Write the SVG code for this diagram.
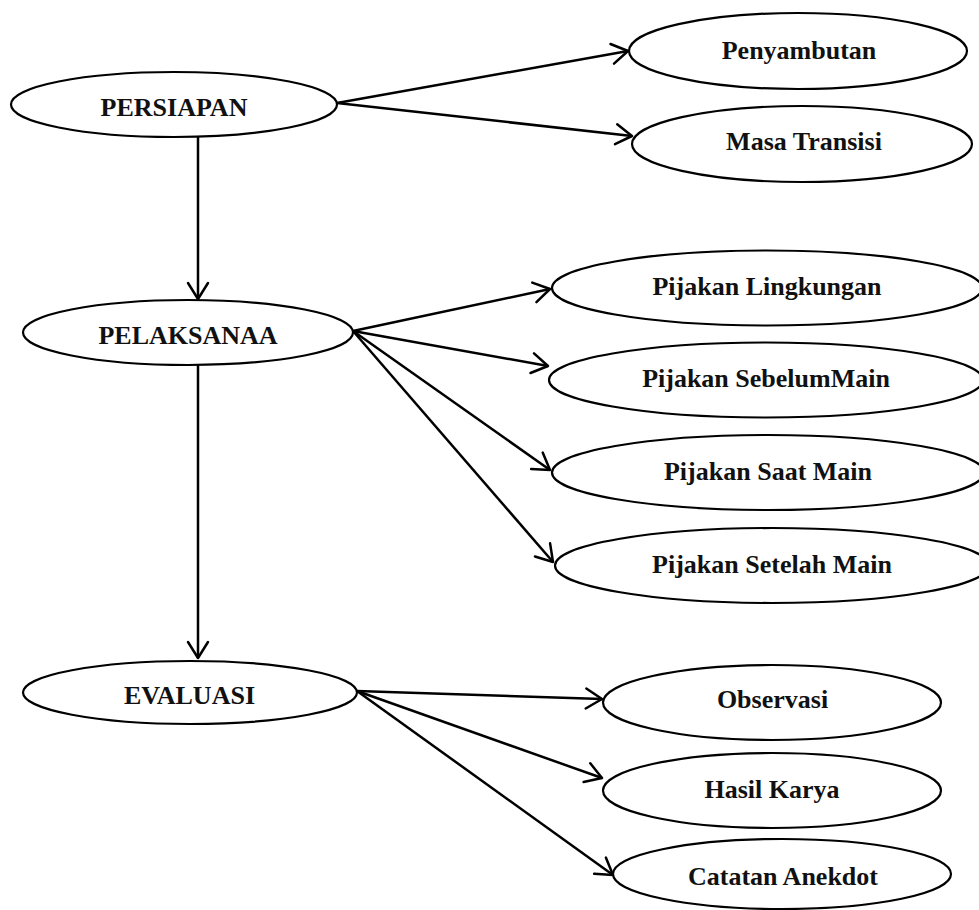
<svg xmlns="http://www.w3.org/2000/svg" width="979" height="910" viewBox="0 0 979 910">
<style>
.n{fill:#fff;stroke:#000;stroke-width:2.2}
.t{font-family:"Liberation Serif","Times New Roman",serif;font-weight:bold;font-size:26px;fill:#111;text-anchor:middle}
.c line{stroke:#000;stroke-width:2.5;marker-end:url(#ah)}
</style>
<defs>
<marker id="ah" markerUnits="userSpaceOnUse" viewBox="-20 -12 22 24" refX="0" refY="0" markerWidth="22" markerHeight="24" orient="auto">
<path d="M-16,-10 L0,0 L-16,10" fill="none" stroke="#000" stroke-width="2.5" stroke-linecap="round" stroke-linejoin="round"/>
</marker>
</defs>
<rect width="979" height="910" fill="#fff"/>
<g id="connectors" class="c">
<line x1="198" y1="137" x2="198" y2="299"/>
<line x1="198" y1="365" x2="198" y2="658"/>
<line x1="337" y1="103" x2="628" y2="51"/>
<line x1="337" y1="103" x2="632" y2="136"/>
<line x1="353" y1="331" x2="550" y2="289"/>
<line x1="353" y1="331" x2="548" y2="366"/>
<line x1="353" y1="331" x2="550" y2="470"/>
<line x1="353" y1="331" x2="553" y2="562"/>
<line x1="357" y1="691" x2="602" y2="699"/>
<line x1="357" y1="691" x2="602" y2="778"/>
<line x1="357" y1="691" x2="613" y2="875"/>
</g>
<g id="persiapan"><ellipse class="n" cx="174" cy="104.5" rx="163" ry="32.5"/><text class="t" x="174" y="116">PERSIAPAN</text></g>
<g id="pelaksanaa"><ellipse class="n" cx="188" cy="332.5" rx="165" ry="32.5"/><text class="t" x="188" y="344">PELAKSANAA</text></g>
<g id="evaluasi"><ellipse class="n" cx="190" cy="692.5" rx="167" ry="31.5"/><text class="t" x="189.5" y="704">EVALUASI</text></g>
<g id="penyambutan"><ellipse class="n" cx="798" cy="51" rx="169" ry="38"/><text class="t" x="799" y="59">Penyambutan</text></g>
<g id="masa-transisi"><ellipse class="n" cx="802" cy="144" rx="170" ry="38"/><text class="t" x="804" y="150">Masa Transisi</text></g>
<g id="pijakan-lingkungan"><ellipse class="n" cx="767" cy="288" rx="215" ry="37.5"/><text class="t" x="767" y="295">Pijakan Lingkungan</text></g>
<g id="pijakan-sebelum"><ellipse class="n" cx="766" cy="380" rx="217" ry="37.5"/><text class="t" x="766" y="387">Pijakan SebelumMain</text></g>
<g id="pijakan-saat"><ellipse class="n" cx="768" cy="472.5" rx="216" ry="37.5"/><text class="t" x="768" y="480">Pijakan Saat Main</text></g>
<g id="pijakan-setelah"><ellipse class="n" cx="772" cy="565.5" rx="217" ry="37.5"/><text class="t" x="772" y="573">Pijakan Setelah Main</text></g>
<g id="observasi"><ellipse class="n" cx="772" cy="702.5" rx="169" ry="37.5"/><text class="t" x="772.5" y="708">Observasi</text></g>
<g id="hasil-karya"><ellipse class="n" cx="772" cy="790.5" rx="169" ry="37.5"/><text class="t" x="772" y="798">Hasil Karya</text></g>
<g id="catatan-anekdot"><ellipse class="n" cx="782" cy="874" rx="169" ry="35"/><text class="t" x="783" y="885">Catatan Anekdot</text></g>
</svg>
